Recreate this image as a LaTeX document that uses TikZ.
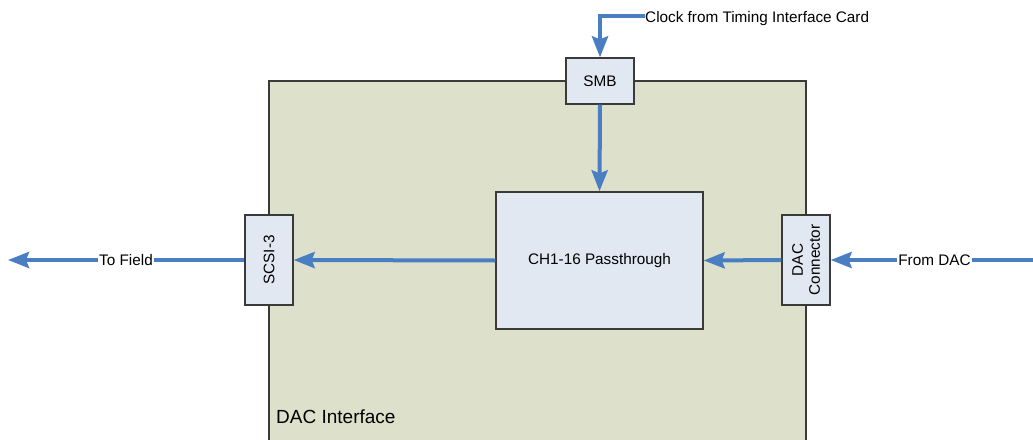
\documentclass[tikz,border=0pt]{standalone}
\usepackage{fontspec}
\setmainfont{Liberation Sans}
\usetikzlibrary{arrows.meta}
\definecolor{linkblue}{HTML}{4A7EC2}
\definecolor{boardfill}{HTML}{DDE1CB}
\definecolor{partfill}{HTML}{E2E8F2}
\definecolor{edgegray}{HTML}{3A3A3A}
\tikzset{
  lbl/.style={font=\fontsize{15.3}{17}\selectfont, inner sep=0pt},
  part/.style={draw=edgegray, line width=1.3pt, fill=partfill, inner sep=0pt,
    font=\fontsize{15.3}{17}\selectfont, align=center},
  link/.style={draw=linkblue, line width=4pt,
    -{Stealth[length=21pt, width=16pt, inset=3pt]}},
  onlink/.style={lbl, fill=white, inner xsep=1pt, inner ysep=2pt}
}
\begin{document}
\begin{tikzpicture}[x=1pt, y=-1pt]
\useasboundingbox (0,0) rectangle (1033,439);

% board outline (open at the bottom edge)
\fill[boardfill] (269,81) rectangle (806,440);
\draw[edgegray, line width=1.3pt] (269,440) -- (269,81) -- (806,81) -- (806,440);
\node[lbl, font=\fontsize{19}{21}\selectfont, anchor=base west] (board) at (276,423) {DAC Interface};

% parts on the board
\node[part, minimum width=68pt, minimum height=46pt] (smb) at (600,81) {SMB};
\node[part, minimum width=207pt, minimum height=137pt] (pass) at (599.5,260.5) {CH1-16 Passthrough};
\node[part, minimum width=48pt, minimum height=90pt] (scsi) at (269,260) {};
\node[lbl, rotate=90] (scsitxt) at (scsi.center) {SCSI-3};
\node[part, minimum width=48pt, minimum height=90pt] (dac) at (806,260) {};
\node[lbl, rotate=90, align=center] (dactxt) at (dac.center) {DAC\\Connector};

% signal paths
\coordinate (clkend) at (645,16);
\node[lbl, anchor=base west] (clk) at (645,22) {Clock from Timing Interface Card};
\draw[link] (clkend) -| (smb.north);
\draw[link] (smb.south) -- (pass.north);
\draw[link] (pass.west) -- (scsi.east);
\draw[link] (dac.west) -- (pass.east);

\coordinate (field) at (8,260);
\draw[link] (scsi.west) -- (field);
\node[onlink] (tofield) at (126,260) {To Field};

\coordinate (dacsrc) at (1033,260);
\draw[link] (dacsrc) -- (dac.east);
\node[onlink] (fromdac) at (934.5,260) {From DAC};
\end{tikzpicture}
\end{document}
